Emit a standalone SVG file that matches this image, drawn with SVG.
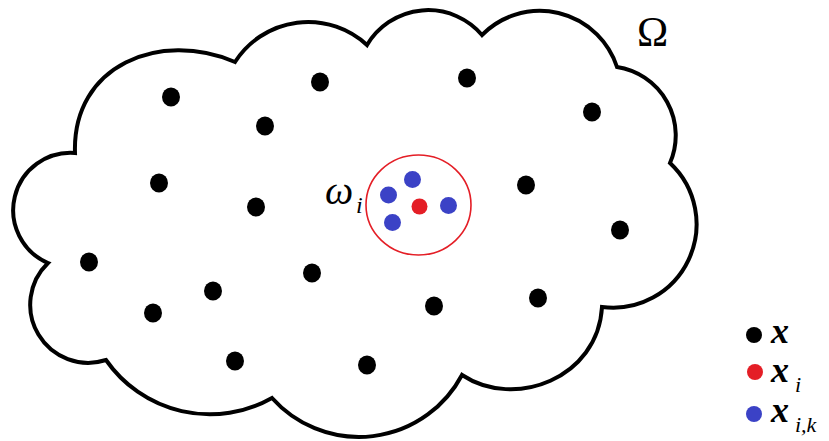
<svg xmlns="http://www.w3.org/2000/svg" width="829" height="441" viewBox="0 0 829 441">
<style>
.blk{fill:#000}
.red{fill:#e41e26}
.blu{fill:#3b42c6}
text{font-family:"Liberation Serif","DejaVu Serif","Times New Roman",serif;fill:#000}
.it{font-style:italic}
.bi{font-style:italic;font-weight:bold}
</style>
<rect width="829" height="441" fill="#fff"/>
<g id="cloud">
<path d="M 75 153 C 72 65 160 30 235 62 A 86.8 86.8 0 0 1 367 45 A 70.9 70.9 0 0 1 482 35 A 81.2 81.2 0 0 1 617 67 A 69.2 69.2 0 0 1 670 163 A 83.6 83.6 0 0 1 602 307 C 598 378 515 410 462 375 A 116.6 116.6 0 0 1 272 398 A 126.4 126.4 0 0 1 106 360 A 58 58 0 0 1 48 263 A 57.4 57.4 0 0 1 75 153 Z" fill="#fff" stroke="#000" stroke-width="4" stroke-linejoin="miter"/>
</g>
<g id="points" class="blk">
<ellipse cx="171" cy="97" rx="9" ry="9.5"/>
<ellipse cx="320" cy="82" rx="9" ry="9.5"/>
<ellipse cx="467" cy="78" rx="9" ry="9.5"/>
<ellipse cx="592" cy="112" rx="9" ry="9.5"/>
<ellipse cx="265" cy="126" rx="9" ry="9.5"/>
<ellipse cx="159" cy="183" rx="9" ry="9.5"/>
<ellipse cx="256" cy="207" rx="9" ry="9.5"/>
<ellipse cx="526" cy="185" rx="9" ry="9.5"/>
<ellipse cx="620" cy="230" rx="9" ry="9.5"/>
<ellipse cx="89" cy="262" rx="9" ry="9.5"/>
<ellipse cx="312" cy="273" rx="9" ry="9.5"/>
<ellipse cx="213" cy="291" rx="9" ry="9.5"/>
<ellipse cx="153" cy="313" rx="9" ry="9.5"/>
<ellipse cx="434" cy="306" rx="9" ry="9.5"/>
<ellipse cx="538" cy="298" rx="9" ry="9.5"/>
<ellipse cx="235" cy="361" rx="9" ry="9.5"/>
<ellipse cx="367" cy="365" rx="9" ry="9.5"/>
</g>
<g id="neighbourhood">
<ellipse cx="418.5" cy="205" rx="52.5" ry="50" fill="none" stroke="#e41e26" stroke-width="1.6"/>
<circle class="red" cx="419.5" cy="206.5" r="8"/>
<circle class="blu" cx="412.5" cy="179.5" r="8.5"/>
<circle class="blu" cx="388.5" cy="195" r="8.5"/>
<circle class="blu" cx="448.5" cy="205.5" r="8.5"/>
<circle class="blu" cx="392.5" cy="222.5" r="8.5"/>
<text class="it" x="325" y="204" font-size="40">ω</text>
<text class="it" x="356" y="213" font-size="24">i</text>
</g>
<g id="omega-label">
<text x="652.5" y="46" font-size="42" text-anchor="middle">Ω</text>
</g>
<g id="legend">
<circle class="blk" cx="754" cy="335" r="8"/>
<circle class="red" cx="755" cy="372" r="8"/>
<circle class="blu" cx="754" cy="414" r="8"/>
<text class="bi" x="771" y="343" font-size="36">x</text>
<text class="bi" x="771" y="382" font-size="36">x</text>
<text class="it" x="795" y="392" font-size="22">i</text>
<text class="bi" x="771" y="422" font-size="36">x</text>
<text class="it" x="795" y="432" font-size="22">i,k</text>
</g>
</svg>
